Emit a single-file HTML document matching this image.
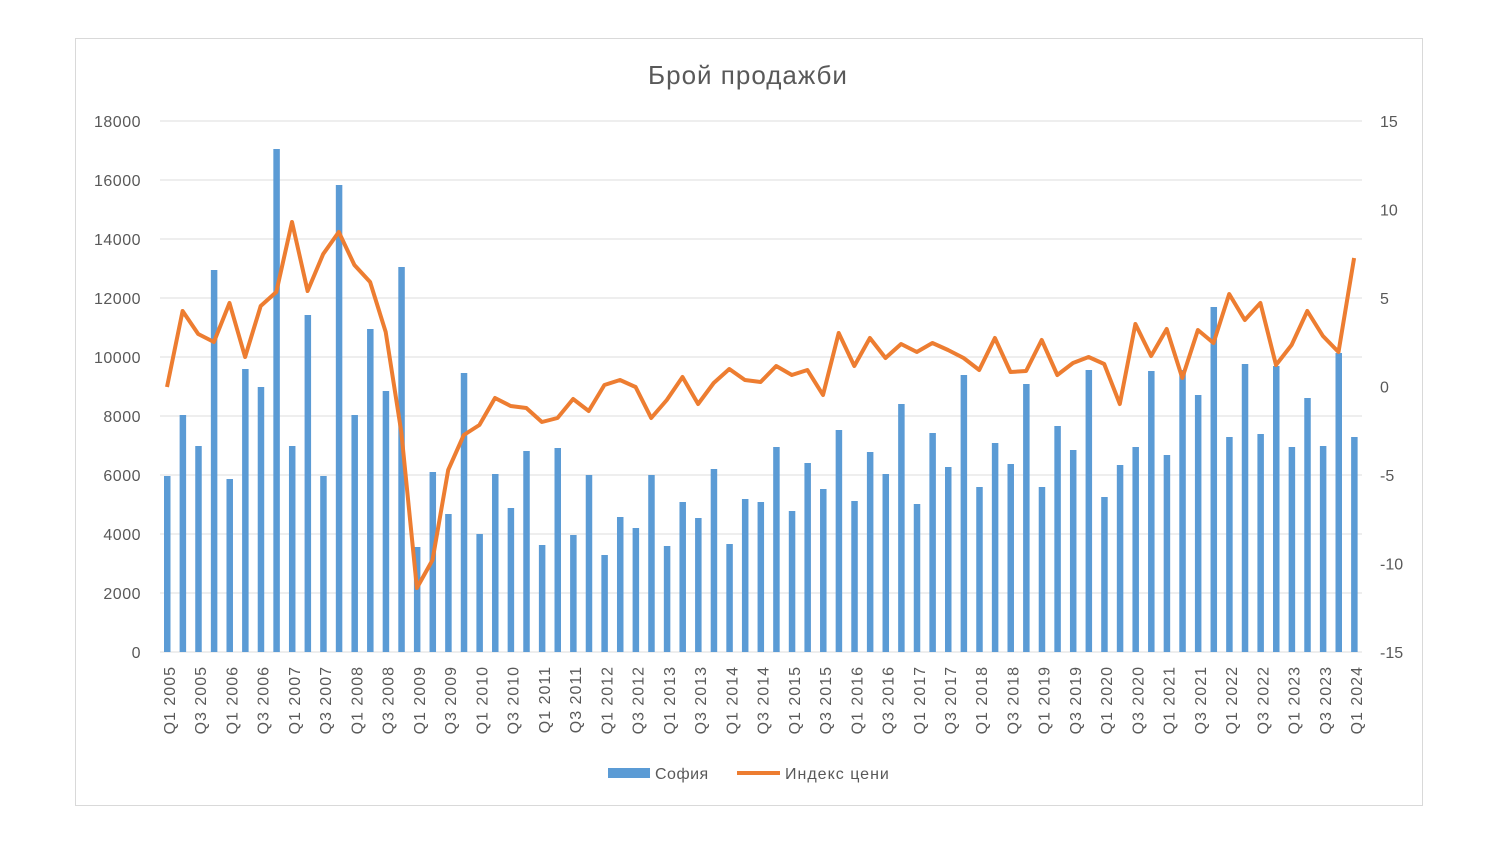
<!DOCTYPE html>
<html><head><meta charset="utf-8"><style>body{margin:0;background:#fff}svg{display:block}</style></head><body>
<svg width="1500" height="844" xmlns="http://www.w3.org/2000/svg" font-family="Liberation Sans, sans-serif" fill="#595959">
<rect x="75.5" y="38.5" width="1347" height="767" fill="#fff" stroke="#d9d9d9"/>
<text x="748" y="84" font-size="26" letter-spacing="1" text-anchor="middle">Брой продажби</text>
<g id="grid" stroke="#e3e3e3" stroke-width="1.2"></g>
<g id="bars" fill="#5b9bd5"></g>
<polyline id="line" fill="none" stroke="#ed7d31" stroke-width="4" stroke-linejoin="round"/>
<g id="ly" font-size="16" letter-spacing="0.5" text-anchor="end"></g>
<g id="ry" font-size="16"></g>
<g id="xl" font-size="16" letter-spacing="1"></g>
<rect x="608" y="768" width="42" height="10" fill="#5b9bd5"/>
<text x="655" y="779" font-size="16" letter-spacing="0.5">София</text>
<line x1="737" y1="773" x2="780" y2="773" stroke="#ed7d31" stroke-width="4"/>
<text x="785" y="779" font-size="16" letter-spacing="1">Индекс цени</text>
</svg>
<script>
var ns="http://www.w3.org/2000/svg";
function el(t,a,p,txt){var e=document.createElementNS(ns,t);for(var k in a)e.setAttribute(k,a[k]);if(txt)e.textContent=txt;document.getElementById(p).appendChild(e);}
for(var i=0;i<=9;i++){var y=652-i*59;el('line',{x1:160,x2:1362,y1:y,y2:y},'grid');el('text',{x:141,y:y+6},'ly',String(i*2000));}
for(var i=0;i<=6;i++){var y=652-i*88.5;el('text',{x:1380,y:y+6},'ry',String(-15+i*5));}
var bt=[476,415,446,270,479,369,387,149,446,315,476,185,415,329,391,267,547,472,514,373,534,474,508,451,545,448,535,475,555,517,528,475,546,502,518,469,544,499,502,447,511,463,489,430,501,452,474,404,504,433,467,375,487,443,464,384,487,426,450,370,497,465,447,371,455,370,395,307,437,364,434,366,447,398,446,353,437];
var ly=[387,311,334,342,303,357,306,292,222,291,254,232,265,282,332,432,588,560,470,435,425,398,406,408,422,418,399,411,385,380,387,418,400,377,404,383,369,380,382,366,375,370,395,333,366,338,358,344,352,343,350,358,370,338,372,371,340,375,363,357,364,404,324,356,329,378,330,343,294,320,303,365,345,311,336,352,258];
var pts=[];
for(var i=0;i<77;i++){var x=167+i*15.62;el('rect',{x:x-3,y:bt[i],width:6.5,height:652-bt[i]},'bars');pts.push(x.toFixed(1)+','+ly[i]);
if(i%2==0){var q=(i%4==0)?'Q1 ':'Q3 ';var yr=2005+Math.floor(i/4);el('text',{x:0,y:0,transform:'translate('+(x+8)+',666) rotate(-90)','text-anchor':'end'},'xl',q+yr);}}
document.getElementById('line').setAttribute('points',pts.join(' '));
</script>
</body></html>
